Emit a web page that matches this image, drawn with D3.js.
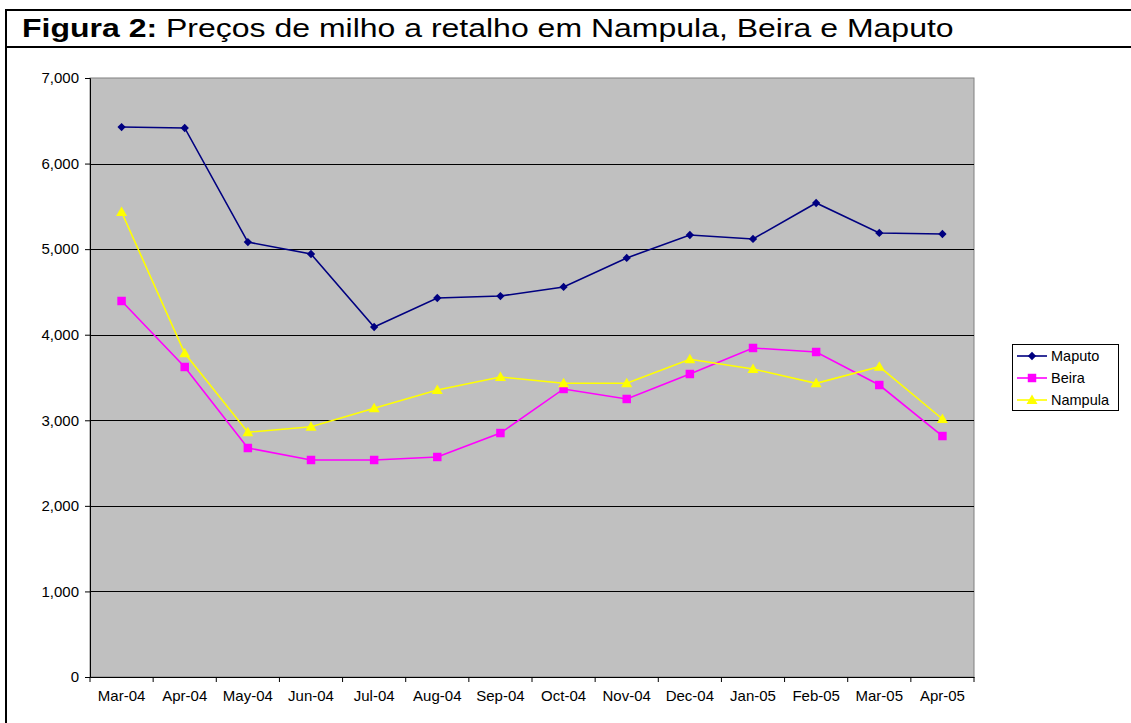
<!DOCTYPE html>
<html>
<head>
<meta charset="utf-8">
<script src="https://cdn.jsdelivr.net/npm/d3@7"></script>
<style>
  body { margin: 0; background: #fff; }
  svg { display: block; font-family: "Liberation Sans", Arial, sans-serif; }
</style>
</head>
<body>
<div id="chart"></div>
<script>
// data
var months = ["Mar-04","Apr-04","May-04","Jun-04","Jul-04","Aug-04","Sep-04","Oct-04","Nov-04","Dec-04","Jan-05","Feb-05","Mar-05","Apr-05"];
var maputo  = [6427, 6416, 5083, 4943, 4090, 4429, 4452, 4558, 4897, 5165, 5119, 5539, 5189, 5177];
var beira   = [4394, 3623, 2676, 2536, 2536, 2571, 2851, 3366, 3249, 3541, 3845, 3798, 3412, 2816];
var nampula = [5434, 3783, 2860, 2925, 3140, 3354, 3506, 3432, 3432, 3713, 3600, 3432, 3627, 3015];
var yTicks  = [0, 1000, 2000, 3000, 4000, 5000, 6000, 7000];

var series = [
  { name: "Maputo",  values: maputo,  color: "#000080", marker: "diamond" },
  { name: "Beira",   values: beira,   color: "#FF00FF", marker: "square" },
  { name: "Nampula", values: nampula, color: "#FFFF00", marker: "triangle" }
];

var W = 1131, H = 723;
var plot = { left: 90, right: 974, top: 78, bottom: 677 };

var svg = d3.select("#chart").append("svg").attr("width", W).attr("height", H);

// outer frame + title strip
svg.append("line").attr("x1", 5).attr("x2", W).attr("y1", 10).attr("y2", 10)
  .attr("stroke", "#000").attr("stroke-width", 2);
svg.append("line").attr("x1", 5).attr("x2", W).attr("y1", 47).attr("y2", 47)
  .attr("stroke", "#000").attr("stroke-width", 2);
svg.append("line").attr("x1", 6).attr("x2", 6).attr("y1", 9).attr("y2", H)
  .attr("stroke", "#000").attr("stroke-width", 2);

// title is drawn wide in the original, so stretch it horizontally
var title = svg.append("text")
  .attr("transform", "translate(22,37) scale(1.28,1)")
  .style("font-size", "25px").attr("fill", "#000");
title.append("tspan").style("font-weight", "bold").text("Figura 2:");
title.append("tspan").text(" Preços de milho a retalho em Nampula, Beira e Maputo");

var x = d3.scaleBand().domain(months).range([plot.left, plot.right]);
var y = d3.scaleLinear().domain([0, 7000]).range([plot.bottom, plot.top]);

// plot area
svg.append("rect")
  .attr("x", plot.left).attr("y", plot.top)
  .attr("width", plot.right - plot.left).attr("height", plot.bottom - plot.top)
  .attr("fill", "#C0C0C0").attr("stroke", "#808080").attr("stroke-width", 1);

// gridlines
svg.append("g").selectAll("line")
  .data(yTicks.filter(function(d){ return d > 0 && d < 7000; }))
  .enter().append("line")
  .attr("x1", plot.left).attr("x2", plot.right)
  .attr("y1", function(d){ return Math.round(y(d)) + 0.5; })
  .attr("y2", function(d){ return Math.round(y(d)) + 0.5; })
  .attr("stroke", "#000").attr("stroke-width", 1);

// y axis
var yAxis = svg.append("g")
  .attr("transform", "translate(" + plot.left + ",0)")
  .call(d3.axisLeft(y).tickValues(yTicks).tickSize(5).tickPadding(6)
    .tickFormat(d3.format(",")));
yAxis.select(".domain").attr("stroke", "#000");
yAxis.selectAll(".tick line").attr("stroke", "#000");
yAxis.selectAll("text").style("font-size", "15px").attr("fill", "#000").attr("font-family", "Liberation Sans, Arial, sans-serif");

// x axis, ticks at band boundaries
var xAxis = svg.append("g")
  .attr("transform", "translate(0," + plot.bottom + ")")
  .call(d3.axisBottom(x).tickSize(0).tickPadding(13));
xAxis.select(".domain").attr("stroke", "#000");
xAxis.selectAll("text").style("font-size", "15px").attr("fill", "#000").attr("font-family", "Liberation Sans, Arial, sans-serif");
xAxis.selectAll(".bound")
  .data(months.concat(["end"]))
  .enter().append("line").attr("class", "bound")
  .attr("x1", function(d, i){ return plot.left + i * x.step(); })
  .attr("x2", function(d, i){ return plot.left + i * x.step(); })
  .attr("y1", 0).attr("y2", 5)
  .attr("stroke", "#000");

function markerPath(type) {
  if (type === "diamond") return d3.symbol().type(d3.symbolDiamond2).size(44)();
  if (type === "square") return d3.symbol().type(d3.symbolSquare).size(72)();
  return "M0,-5.5L5.5,4L-5.5,4Z";
}

var line = d3.line()
  .x(function(d, i){ return x(months[i]) + x.bandwidth() / 2; })
  .y(function(d){ return y(d); });

series.forEach(function(s) {
  var g = svg.append("g");
  g.append("path").datum(s.values)
    .attr("d", line).attr("fill", "none")
    .attr("stroke", s.color).attr("stroke-width", 1.6);
  g.selectAll("path.m").data(s.values).enter().append("path").attr("class", "m")
    .attr("d", markerPath(s.marker))
    .attr("transform", function(d, i){
      return "translate(" + (x(months[i]) + x.bandwidth() / 2) + "," + y(d) + ")";
    })
    .attr("fill", s.color);
});

// legend
var leg = svg.append("g").attr("transform", "translate(1012,344)");
leg.append("rect").attr("x", 0.5).attr("y", 0.5).attr("width", 106).attr("height", 66)
  .attr("fill", "#fff").attr("stroke", "#000");
series.forEach(function(s, i) {
  var cy = 12 + i * 22;
  leg.append("line").attr("x1", 5).attr("x2", 35).attr("y1", cy).attr("y2", cy)
    .attr("stroke", s.color).attr("stroke-width", 1.6);
  leg.append("path").attr("d", markerPath(s.marker))
    .attr("transform", "translate(20," + cy + ")").attr("fill", s.color);
  leg.append("text").attr("x", 39).attr("y", cy + 5)
    .style("font-size", "14.5px").attr("fill", "#000").text(s.name);
});
</script>
</body>
</html>
